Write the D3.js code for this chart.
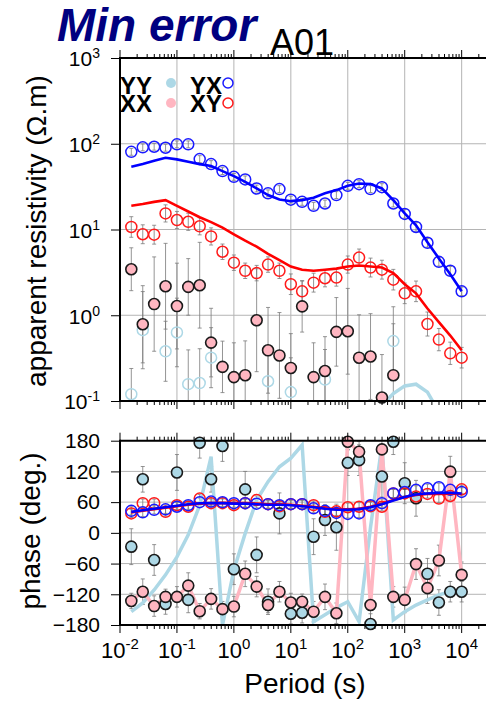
<!DOCTYPE html>
<html>
<head>
<meta charset="utf-8">
<script src="https://cdn.jsdelivr.net/npm/d3@7"></script>
<style>
    body { margin: 0; background: #fff; }
    svg { display: block; font-family: "Liberation Sans", Arial, sans-serif; }
</style>
</head>
<body>
<div id="chart"></div>
<script>
// periods (s)
const periods = [0.0158, 0.0251, 0.0398, 0.0631, 0.1, 0.158, 0.251, 0.398, 0.631, 1,
    1.58, 2.51, 3.98, 6.31, 10, 15.8, 25.1, 39.8, 63.1, 100,
    158, 251, 398, 631, 1000, 1580, 2510, 3980, 6310, 10000]

// apparent resistivity (ohm.m)
const rhoYX = [80.5, 90.8, 92.3, 89.8, 98.4, 98.4, 66.2, 57.9, 48.0, 41.1,
    38.4, 30.1, 26.4, 29.6, 22.3, 21.0, 18.9, 20.1, 25.2, 32.3,
    33.8, 29.6, 31.2, 20.1, 15.2, 10.7, 7.0, 4.2, 3.3, 1.9]
const rhoYXModel = [53.8, 57.9, 63.3, 68.6, 65.7, 61.6, 57.9, 54.9, 48.0, 42.0,
    36.0, 30.1, 25.2, 22.4, 21.4, 22.0, 23.5, 26.4, 28.8, 32.3,
    34.4, 33.8, 30.1, 22.0, 15.4, 11.2, 7.1, 4.6, 3.0, 1.9]
const rhoXY = [10.7, 8.8, 8.7, 15.4, 12.9, 12.3, 10.9, 8.3, 5.5, 4.1,
    3.3, 3.1, 3.9, 3.3, 2.3, 1.9, 2.4, 2.7, 2.75, 3.9,
    4.7, 3.6, 3.4, 2.6, 1.8, 1.9, 0.79, 0.52, 0.36, 0.32]
const rhoXYModel = [18.9, 19.8, 21.0, 22.0, 18.9, 16.2, 13.9, 12.2, 10.5, 8.8,
    7.4, 6.3, 5.2, 4.4, 3.7, 3.4, 3.3, 3.4, 3.5, 3.7,
    3.8, 3.7, 3.6, 3.1, 2.3, 1.8, 1.2, 0.83, 0.58, 0.39]
const rhoXX = [3.44, 0.785, 1.35, 2.18, 1.28, 2.14, 2.24, 0.48, 0.25, 0.19,
    0.20, 0.875, 0.39, 0.34, 0.243, 1.27, 0.19, 0.224, 0.64, 0.65,
    0.32, 0.33, 0.11, 0.20, null, null, null, null, null, null]
const rhoYY = [0.12, 0.67, null, 0.38, 0.63, 0.157, 0.162, 0.32, null, null,
    null, null, 0.17, null, 0.127, null, null, 0.178, null, null,
    null, null, null, 0.50, null, null, null, null, null, null]
const rhoYYModel = [null, null, null, null, null, null, null, null, null, null,
    null, null, null, null, null, null, null, null, null, null,
    null, 0.05, 0.089, 0.122, 0.15, 0.157, 0.127, 0.074, 0.04, null]

// resistivity error half-widths (decades)
const errXY = [0.12, 0.11, 0.11, 0.1, 0.1, 0.1, 0.1, 0.1, 0.09, 0.09,
    0.09, 0.09, 0.09, 0.09, 0.12, 0.12, 0.11, 0.1, 0.1, 0.1,
    0.1, 0.11, 0.11, 0.12, 0.12, 0.12, 0.14, 0.13, 0.13, 0.12]
const errYX = [0.04, 0.04, 0.04, 0.04, 0.04, 0.04, 0.04, 0.04, 0.04, 0.04,
    0.04, 0.04, 0.04, 0.04, 0.04, 0.04, 0.04, 0.04, 0.04, 0.04,
    0.04, 0.04, 0.04, 0.04, 0.05, 0.05, 0.05, 0.05, 0.05, 0.05]
const errXX = [0.25, 0.45, 0.55, 0.5, 0.5, 0.33, 0.5, 0.4, 0.3, 0.4,
    0.4, 0.6, 0.5, 0.5, 0.4, 0.3, 0.4, 0.4, 0.4, 0.5,
    0.5, 0.5, 0.5, 0.6, 0, 0, 0, 0, 0, 0]
const errYY = [0.3, 0.45, 0, 0.35, 0.4, 0.4, 0.4, 0.35, 0, 0,
    0, 0, 0.4, 0, 0.4, 0, 0, 0.35, 0, 0,
    0, 0, 0, 0.4, 0, 0, 0, 0, 0, 0]

// phase (degrees)
const phiYX = [43, 40, 45, 46, 51, 54, 60, 61, 60, 58,
    58, 57, 56, 54, 56, 56, 48, 43, 39, 37,
    38, 54, 58, 77, 80, 84, 87, 89, 84, 80]
const phiXY = [38, 58, 58, 41, 54, 51, 67, 58, 58, 54,
    58, 64, 56, 52, 56, 56, 54, 41, 42, 50,
    51, 52, 51, 77, 77, 71, 76, 67, 72, 85]
const phiYXModel = [41, 44, 47, 50, 53, 56, 57.7, 58, 58, 57,
    57, 56, 55, 55, 54, 52, 50, 47, 45, 45,
    46, 50, 56, 63, 70, 75, 77, 78, 78, 77]
const phiXYModel = [40, 43, 46, 49, 52, 55, 57, 58, 58.5, 58,
    58, 57, 56, 56, 55, 53, 51, 48, 46, 46,
    47, 51, 57, 64, 70, 74, 76, 76, 77, 76]
const phiXX = [-133, -115, -143, -125, -125, -103, -153, -129, -149, -144,
    -80, -105, -141, -115, -136, -134.5, -154, -125, -157, 178,
    158.5, -141, 163, -125, -131, -61, -108, -54, 119.5, -82]
const phiYY = [-27, 104.6, -53, -139, 118, -131, 176, 104.6, 169.6, -71,
    85, -43, -134.5, 38, -158, -156, -7.5, 25, 11, 137,
    142, -178, 110, 178, 97, 67.5, -80, -136, -115, -115]
const phiYYModel = [-154, -137, -111.6, -82, -47, -4, 54, 149, -180, -72.5,
    -1, 64, 100, 129, 146, 171.6, -173.5, -160, -146, -134.5,
    -173.5, 11, 171.6, -170, -154, -141, -131, -121, -115, -111.6]

// phase error half-widths (degrees)
const errPhiXX = [15, 25, 20, 15, 20, 25, 15, 20, 15, 20,
    25, 20, 15, 20, 18, 15, 20, 25, 20, 15,
    20, 30, 25, 20, 25, 30, 30, 30, 30, 25]
const errPhiYY = [35, 25, 30, 20, 35, 25, 30, 25, 30, 30,
    35, 35, 25, 40, 20, 20, 35, 30, 45, 25,
    30, 20, 40, 25, 40, 35, 30, 25, 20, 20]
const errPhiOff = [8, 8, 8, 8, 8, 8, 8, 8, 8, 8,
    8, 8, 8, 8, 8, 8, 8, 8, 8, 8,
    8, 8, 8, 8, 8, 8, 8, 8, 8, 8]

const decadeExponents = [-2, -1, 0, 1, 2, 3, 4]
const rhoExponents = [3, 2, 1, 0, -1]
const phaseTicks = [180, 120, 60, 0, -60, -120, -180]

function draw() {
    const dimensions = { width: 486, height: 704 }

    const svg = d3.select('#chart')
        .append('svg')
        .attr('width', dimensions.width)
        .attr('height', dimensions.height)

    const xScale = d3.scaleLog().domain([1e-2, 1e5]).range([120, 518.6])
    const rhoScale = d3.scaleLog().domain([0.1, 1000]).range([401, 58])
    const phaseScale = d3.scaleLinear().domain([-180, 180]).range([625, 440.7])

    const majorX = decadeExponents.map(e => Math.pow(10, e)).concat([1e5])
    const minorX = xScale.ticks().filter(t => Math.abs(Math.log10(t) - Math.round(Math.log10(t))) > 1e-6)

    const panels = [
        { id: 'rho', y: rhoScale, top: 58, bottom: 401 },
        { id: 'phase', y: phaseScale, top: 440.7, bottom: 625 },
    ]

    const defs = svg.append('defs')
    panels.forEach(p => {
        defs.append('clipPath').attr('id', 'clip-' + p.id)
            .append('rect')
            .attr('x', 120).attr('y', p.top)
            .attr('width', 420).attr('height', p.bottom - p.top)
    })

    // grids
    panels.forEach(p => {
        const g = svg.append('g').attr('stroke', '#b4b4b4').attr('stroke-width', 1)
        g.selectAll('line.v').data(majorX).join('line')
            .attr('x1', d => xScale(d)).attr('x2', d => xScale(d))
            .attr('y1', p.top).attr('y2', p.bottom)
        const yVals = p.id === 'rho' ? rhoExponents.map(e => Math.pow(10, e)) : phaseTicks
        g.selectAll('line.h').data(yVals).join('line')
            .attr('x1', 120).attr('x2', 520)
            .attr('y1', d => p.y(d)).attr('y2', d => p.y(d))
    })

    const rows = periods.map((t, i) => ({
        t, i,
        rhoYX: rhoYX[i], rhoXY: rhoXY[i], rhoXX: rhoXX[i], rhoYY: rhoYY[i],
        phiYX: phiYX[i], phiXY: phiXY[i], phiXX: phiXX[i], phiYY: phiYY[i],
    }))

    // error bars
    function errorBars(g, data, yScale, lo, hi) {
        const eb = g.append('g').attr('stroke', '#7a7a7a').attr('stroke-width', 0.8).attr('fill', 'none')
        data.forEach(d => {
            const x = xScale(d.t)
            const y1 = yScale(lo(d)), y2 = yScale(hi(d))
            eb.append('line').attr('x1', x).attr('x2', x).attr('y1', y1).attr('y2', y2)
            eb.append('line').attr('x1', x - 2).attr('x2', x + 2).attr('y1', y1).attr('y2', y1)
            eb.append('line').attr('x1', x - 2).attr('x2', x + 2).attr('y1', y2).attr('y2', y2)
        })
    }

    const rhoG = svg.append('g').attr('clip-path', 'url(#clip-rho)')
    const phaseG = svg.append('g').attr('clip-path', 'url(#clip-phase)')

    const withYY = rows.filter(d => d.rhoYY != null && errYY[d.i] > 0)
    const withXX = rows.filter(d => d.rhoXX != null && errXX[d.i] > 0)
    errorBars(rhoG, withYY, rhoScale, d => d.rhoYY / Math.pow(10, errYY[d.i]), d => d.rhoYY * Math.pow(10, errYY[d.i]))
    errorBars(rhoG, withXX, rhoScale, d => d.rhoXX / Math.pow(10, errXX[d.i]), d => d.rhoXX * Math.pow(10, errXX[d.i]))
    errorBars(rhoG, rows, rhoScale, d => d.rhoXY / Math.pow(10, errXY[d.i]), d => d.rhoXY * Math.pow(10, errXY[d.i]))
    errorBars(rhoG, rows, rhoScale, d => d.rhoYX / Math.pow(10, errYX[d.i]), d => d.rhoYX * Math.pow(10, errYX[d.i]))

    errorBars(phaseG, rows, phaseScale, d => d.phiYY - errPhiYY[d.i], d => d.phiYY + errPhiYY[d.i])
    errorBars(phaseG, rows, phaseScale, d => d.phiXX - errPhiXX[d.i], d => d.phiXX + errPhiXX[d.i])
    errorBars(phaseG, rows, phaseScale, d => d.phiXY - errPhiOff[d.i], d => d.phiXY + errPhiOff[d.i])
    errorBars(phaseG, rows, phaseScale, d => d.phiYX - errPhiOff[d.i], d => d.phiYX + errPhiOff[d.i])

    // thick model lines for diagonal components
    const lineRho = d3.line().defined(d => d.v != null).x(d => xScale(d.t)).y(d => rhoScale(d.v))
    const linePhi = d3.line().x(d => xScale(d.t)).y(d => phaseScale(d.v))
    const series = arr => periods.map((t, i) => ({ t, v: arr[i] }))

    rhoG.append('path').attr('d', lineRho(series(rhoYYModel)))
        .attr('fill', 'none').attr('stroke', '#add8e6').attr('stroke-width', 3.5)
    phaseG.append('path').attr('d', linePhi(series(phiYYModel)))
        .attr('fill', 'none').attr('stroke', '#add8e6').attr('stroke-width', 3.5)
        .attr('stroke-linejoin', 'miter')
    phaseG.append('path').attr('d', linePhi(series(phiXX)))
        .attr('fill', 'none').attr('stroke', '#ffb6c1').attr('stroke-width', 3.5)

    // markers
    const r = 5.5
    function filledDots(g, key, yScale, fill) {
        g.selectAll(null).data(rows.filter(d => d[key] != null)).join('circle')
            .attr('cx', d => xScale(d.t)).attr('cy', d => yScale(d[key])).attr('r', r)
            .attr('fill', fill).attr('stroke', '#1a1a1a').attr('stroke-width', 1.6)
    }
    function openDots(g, key, yScale, color) {
        g.selectAll(null).data(rows.filter(d => d[key] != null)).join('circle')
            .attr('cx', d => xScale(d.t)).attr('cy', d => yScale(d[key])).attr('r', r)
            .attr('fill', 'none').attr('stroke', color).attr('stroke-width', 1.5)
    }

    const markG = svg.append('g')
    openDots(markG, 'rhoYY', rhoScale, '#add8e6')
    filledDots(markG, 'rhoXX', rhoScale, '#ffb6c1')
    openDots(markG, 'rhoXY', rhoScale, '#ff1a1a')
    openDots(markG, 'rhoYX', rhoScale, '#1a1aff')

    filledDots(markG, 'phiYY', phaseScale, '#add8e6')
    filledDots(markG, 'phiXX', phaseScale, '#ffb6c1')
    openDots(markG, 'phiXY', phaseScale, '#ff1a1a')
    openDots(markG, 'phiYX', phaseScale, '#1a1aff')

    // off-diagonal model curves
    const modelG = svg.append('g').attr('fill', 'none').attr('stroke-width', 2.6)
    modelG.append('path').attr('d', lineRho(series(rhoYXModel))).attr('stroke', '#0000ff')
    modelG.append('path').attr('d', lineRho(series(rhoXYModel))).attr('stroke', '#ff0000')
    modelG.append('path').attr('d', linePhi(series(phiXYModel))).attr('stroke', '#ff0000')
    modelG.append('path').attr('d', linePhi(series(phiYXModel))).attr('stroke', '#0000ff')

    // frames and ticks
    const axisG = svg.append('g').attr('stroke', '#000')
    panels.forEach(p => {
        axisG.append('line').attr('x1', 120).attr('x2', 520).attr('y1', p.top).attr('y2', p.top).attr('stroke-width', 2)
        axisG.append('line').attr('x1', 120).attr('x2', 520).attr('y1', p.bottom).attr('y2', p.bottom).attr('stroke-width', 2)
        axisG.append('line').attr('x1', 120).attr('x2', 120).attr('y1', p.top - 1).attr('y2', p.bottom + 1).attr('stroke-width', 2)

        const xt = axisG.append('g').attr('stroke-width', 1)
        majorX.forEach(t => {
            xt.append('line').attr('x1', xScale(t)).attr('x2', xScale(t)).attr('y1', p.top).attr('y2', p.top - 8)
            xt.append('line').attr('x1', xScale(t)).attr('x2', xScale(t)).attr('y1', p.bottom).attr('y2', p.bottom + 8)
        })
        minorX.forEach(t => {
            xt.append('line').attr('x1', xScale(t)).attr('x2', xScale(t)).attr('y1', p.top).attr('y2', p.top - 4)
            xt.append('line').attr('x1', xScale(t)).attr('x2', xScale(t)).attr('y1', p.bottom).attr('y2', p.bottom + 4)
        })
    })

    const yAxisRho = d3.axisLeft(rhoScale)
        .tickValues(rhoExponents.map(e => Math.pow(10, e)))
        .tickSize(9).tickSizeOuter(0).tickPadding(11).tickFormat('')
    const rhoAxisG = svg.append('g').attr('transform', 'translate(120,0)').call(yAxisRho)
    rhoAxisG.select('.domain').remove()
    rhoAxisG.selectAll('.tick text')
        .attr('font-size', 21).attr('fill', '#000')
        .attr('dy', '0.38em')
        .each(function (d) {
            const t = d3.select(this)
            t.append('tspan').text('10')
            t.append('tspan').attr('dy', -8).attr('font-size', 14).text(Math.round(Math.log10(d)))
        })

    const yAxisPhase = d3.axisLeft(phaseScale)
        .tickValues(phaseTicks)
        .tickSize(9).tickSizeOuter(0).tickPadding(11)
    const phaseAxisG = svg.append('g').attr('transform', 'translate(120,0)').call(yAxisPhase)
    phaseAxisG.select('.domain').remove()
    phaseAxisG.selectAll('.tick text').attr('font-size', 21).attr('fill', '#000').attr('font-family', 'Liberation Sans, Arial, sans-serif')

    // bottom x labels
    const xLabels = svg.append('g').attr('font-size', 22).attr('text-anchor', 'middle')
    decadeExponents.forEach(e => {
        const t = xLabels.append('text').attr('x', xScale(Math.pow(10, e))).attr('y', 658)
        t.append('tspan').text('10')
        t.append('tspan').attr('dy', -9).attr('font-size', 15).text(e)
    })

    svg.append('text')
        .attr('x', 305).attr('y', 693)
        .attr('text-anchor', 'middle').attr('font-size', 28)
        .text('Period (s)')

    svg.append('text')
        .attr('transform', 'translate(46,231) rotate(-90)')
        .attr('text-anchor', 'middle').attr('font-size', 28)
        .text('apparent resistivity (Ω.m)')

    svg.append('text')
        .attr('transform', 'translate(40,531) rotate(-90)')
        .attr('text-anchor', 'middle').attr('font-size', 28)
        .text('phase (deg.)')

    // title
    svg.append('text')
        .attr('x', 57).attr('y', 41)
        .attr('font-size', 46).attr('font-weight', 'bold').attr('font-style', 'italic')
        .attr('fill', '#000080')
        .text('Min error')
    svg.append('text')
        .attr('x', 270).attr('y', 55)
        .attr('font-size', 36)
        .text('A01')

    // legend
    const legend = svg.append('g').attr('font-size', 24).attr('font-weight', 'bold')
    legend.append('text').attr('x', 120).attr('y', 94).text('YY')
    legend.append('text').attr('x', 120).attr('y', 112).text('XX')
    legend.append('text').attr('x', 190).attr('y', 94).text('YX')
    legend.append('text').attr('x', 190).attr('y', 112).text('XY')
    legend.append('circle').attr('cx', 171).attr('cy', 83).attr('r', 5).attr('fill', '#add8e6')
    legend.append('circle').attr('cx', 171).attr('cy', 103).attr('r', 5).attr('fill', '#ffb6c1')
    legend.append('circle').attr('cx', 228).attr('cy', 83).attr('r', 5).attr('fill', 'none').attr('stroke', '#1a1aff').attr('stroke-width', 1.5)
    legend.append('circle').attr('cx', 228).attr('cy', 103).attr('r', 5).attr('fill', 'none').attr('stroke', '#ff1a1a').attr('stroke-width', 1.5)
}

draw()
</script>
</body>
</html>
